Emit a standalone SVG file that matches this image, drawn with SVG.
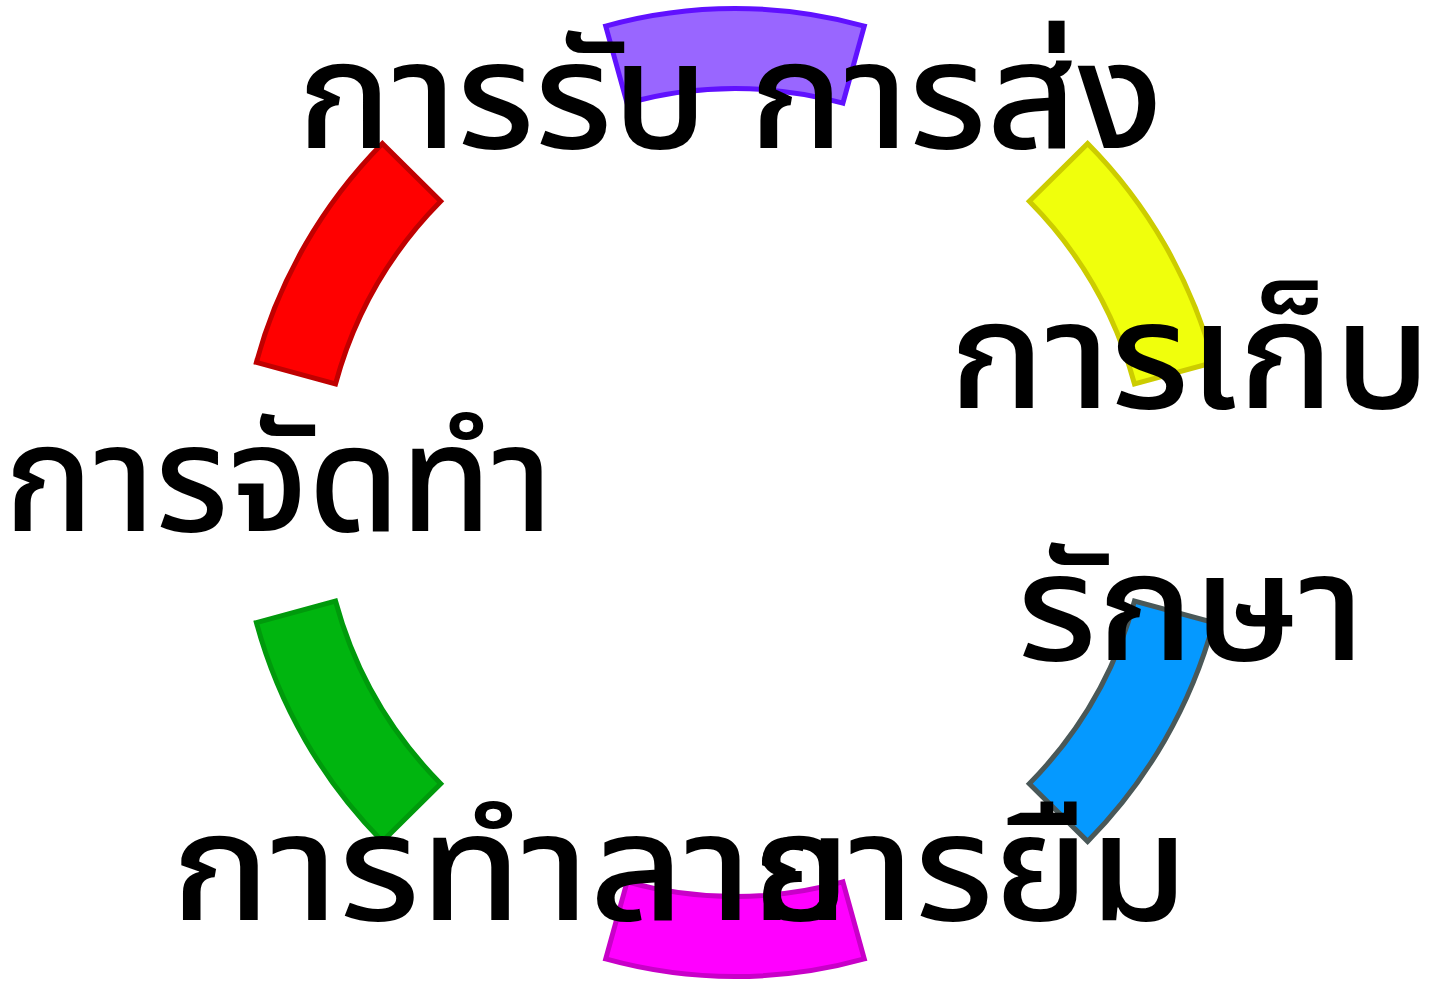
<svg xmlns="http://www.w3.org/2000/svg" width="1441" height="983" viewBox="0 0 1441 983">
<style>
.seg{stroke-width:5;stroke-linejoin:miter}
.lbl{font-family:"Noto Sans Thai","Noto Sans","DejaVu Sans",sans-serif;font-weight:500;font-size:150px;fill:#000}
</style>
<rect width="1441" height="983" fill="#fff"/>
<g id="connectors"></g>
<g id="seg-top"><path class="seg" fill="#9966ff" stroke="#6011ff" d="M605.7,26.1 A484,484 0 0 1 864.3,26.1 L842.9,103.2 A404,404 0 0 0 627.1,103.2 Z"/></g>
<g id="seg-upper-right"><path class="seg" fill="#f0ff0c" stroke="#cccc00" d="M1087.6,143.6 A496,496 0 0 1 1213.6,362.4 L1134.5,384 A414,414 0 0 0 1029.3,201.3 Z"/></g>
<g id="seg-lower-right"><path class="seg" fill="#0599ff" stroke="#4a5858" d="M1213.6,622.6 A496,496 0 0 1 1087.6,841.4 L1029.3,783.7 A414,414 0 0 0 1134.5,601 Z"/></g>
<g id="seg-bottom"><path class="seg" fill="#ff00ff" stroke="#c800c8" d="M605.7,958.9 A484,484 0 0 0 864.3,958.9 L842.9,881.8 A404,404 0 0 1 627.1,881.8 Z"/></g>
<g id="seg-lower-left"><path class="seg" fill="#00b50f" stroke="#009a0c" d="M256.4,622.6 A496,496 0 0 0 382.4,841.4 L440.7,783.7 A414,414 0 0 1 335.5,601 Z"/></g>
<g id="seg-upper-left"><path class="seg" fill="#ff0000" stroke="#c00000" d="M382.4,143.6 A496,496 0 0 0 256.4,362.4 L335.5,384 A414,414 0 0 1 440.7,201.3 Z"/></g>
<g id="label-top"><text class="lbl" x="297" y="148" textLength="866" lengthAdjust="spacingAndGlyphs">การรับ การส่ง</text></g>
<g id="label-right-1"><text class="lbl" x="949" y="408" textLength="482" lengthAdjust="spacingAndGlyphs">การเก็บ</text></g>
<g id="label-right-2"><text class="lbl" x="1017" y="660" textLength="348" lengthAdjust="spacingAndGlyphs">รักษา</text></g>
<g id="label-left"><text class="lbl" x="4" y="531" textLength="549" lengthAdjust="spacingAndGlyphs">การจัดทำ</text></g>
<g id="label-bottom-1"><text class="lbl" x="171" y="920" textLength="680" lengthAdjust="spacingAndGlyphs">การทำลาย</text></g>
<g id="label-bottom-2"><text class="lbl" x="752" y="920" textLength="436" lengthAdjust="spacingAndGlyphs">การยืม</text></g>
</svg>
